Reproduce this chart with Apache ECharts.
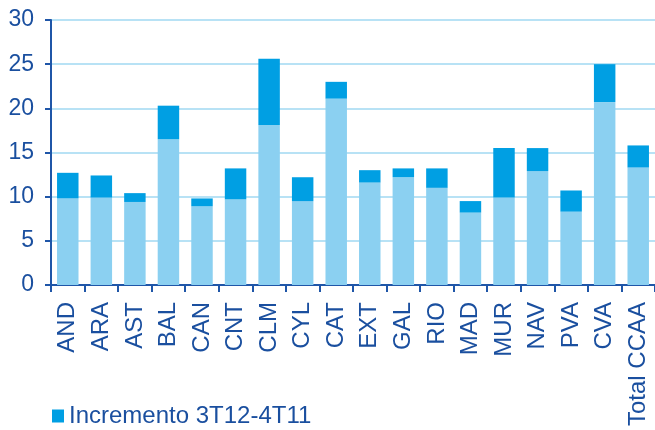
<!DOCTYPE html>
<html><head><meta charset="utf-8">
<script src="https://cdn.jsdelivr.net/npm/echarts@6/dist/echarts.min.js"></script>
<style>html,body{margin:0;padding:0;background:#fff}#c{width:655px;height:430px}</style>
</head><body><div id="c"></div>
<script>
const categories = ['AND','ARA','AST','BAL','CAN','CNT','CLM','CYL','CAT','EXT','GAL','RIO','MAD','MUR','NAV','PVA','CVA','Total CCAA'];
const baseValues = [9.8, 9.9, 9.4, 16.5, 8.9, 9.7, 18.1, 9.5, 21.1, 11.6, 12.2, 11.0, 8.2, 9.9, 12.9, 8.3, 20.7, 13.3];
const incrementValues = [2.9, 2.5, 1.0, 3.8, 0.9, 3.5, 7.5, 2.7, 1.9, 1.4, 1.0, 2.2, 1.3, 5.6, 2.6, 2.4, 4.3, 2.5];
const yTicks = [0, 5, 10, 15, 20, 25, 30];

const textColor = '#1a4f9f';
const axisColor = '#1f56a8';
const fontFamily = 'Liberation Sans, Arial, sans-serif';
const chart = echarts.init(document.getElementById('c'));
chart.setOption({
  animation: false,
  grid: {left: 51, top: 20, width: 606, bottom: 145, containLabel: false},
  legend: {
    data: ['Incremento 3T12-4T11'],
    left: 47, top: 399, icon: 'rect', itemWidth: 12, itemHeight: 13,
    textStyle: {fontFamily: fontFamily, fontSize: 24, color: textColor}
  },
  xAxis: {
    type: 'category', data: categories,
    axisLine: {lineStyle: {color: axisColor, width: 2}},
    axisTick: {show: true, length: 7, lineStyle: {color: axisColor, width: 2}},
    axisLabel: {rotate: 90, interval: 0, margin: 17, fontFamily: fontFamily, fontSize: 24, color: textColor}
  },
  yAxis: {
    type: 'value', min: yTicks[0], max: yTicks[yTicks.length-1], interval: 5,
    axisLine: {show: true, lineStyle: {color: axisColor, width: 2}},
    axisTick: {show: true, length: 6, lineStyle: {color: axisColor, width: 2}},
    axisLabel: {margin: 17, fontFamily: fontFamily, fontSize: 23, color: textColor},
    splitLine: {show: true, lineStyle: {color: '#b8e2f5', width: 2}}
  },
  series: [
    {name: 'Base', type: 'bar', stack: 'a', data: baseValues, barWidth: '64%',
     itemStyle: {color: '#8bd0f1'}},
    {name: 'Incremento 3T12-4T11', type: 'bar', stack: 'a', data: incrementValues, barWidth: '64%',
     itemStyle: {color: '#009fe3'}}
  ]
});
</script></body></html>
